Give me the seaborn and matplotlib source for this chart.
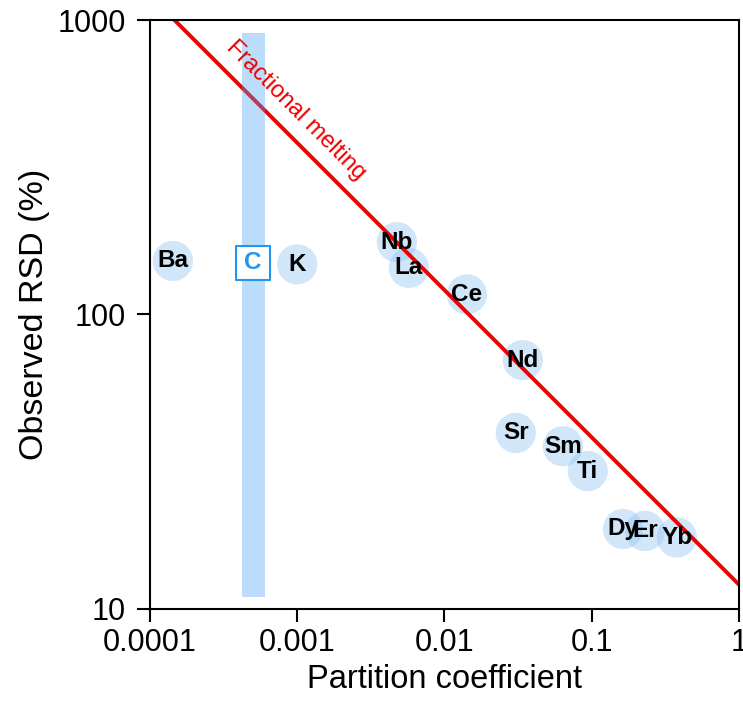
import matplotlib
matplotlib.use("Agg")
import matplotlib.pyplot as plt
import seaborn as sns
import pandas as pd

elements = ["Ba", "K", "Nb", "La", "Ce", "Nd", "Sr", "Sm", "Ti", "Dy", "Er", "Yb"]
partition = [0.000143, 0.001, 0.00475, 0.00573, 0.0142, 0.034, 0.0305, 0.0637, 0.094, 0.163, 0.23, 0.378]
rsd = [152, 148, 176, 144, 117, 70, 39.6, 35.7, 29.4, 18.7, 18.4, 17.5]

line_x = [0.0001, 1.0]
line_y = [1210, 12.1]

band_x = [0.00042, 0.0006]
band_y = [11, 900]
c_label = "C"
c_pos = (0.0005, 150)

sns.set_theme(style="white")
plt.rcParams['font.family'] = ['Liberation Sans', 'DejaVu Sans']

df = pd.DataFrame({"D": partition, "RSD": rsd, "el": elements})

fig = plt.figure(figsize=(7.43, 7.02), dpi=100)
ax = fig.add_axes([0.2019, 0.1325, 0.7927, 0.839])

sns.scatterplot(data=df, x="D", y="RSD", s=840, color="#90c2f4", alpha=0.4,
                edgecolor="none", ax=ax, zorder=1.5)

sns.lineplot(x=line_x, y=line_y, color="#ee0000", lw=2.8, ax=ax, zorder=2)

ax.fill_between(band_x, band_y[0], band_y[1], color="#4fa3f5", alpha=0.38,
                lw=0, zorder=2.5)

for e, x, y in zip(elements, partition, rsd):
    ax.text(x, y, e, ha="center", va="center", fontsize=17.5, fontweight="bold",
            color="black", zorder=4)

ax.scatter([c_pos[0]], [c_pos[1]], marker="s", s=600, facecolor="white",
           edgecolor="#2196f3", linewidth=1.5, zorder=5)
ax.text(c_pos[0], c_pos[1], c_label, ha="center", va="center", fontsize=17.5,
        fontweight="bold", color="#2196f3", zorder=6)

ax.text(0.00098, 494, "Fractional melting", rotation=-45, ha="center", va="center",
        fontsize=17, color="#ee0000", rotation_mode="anchor", zorder=4)

ax.set_xscale("log")
ax.set_yscale("log")
ax.set_xlim(0.0001, 1)
ax.set_ylim(10, 1000)
ax.set_xticks([0.0001, 0.001, 0.01, 0.1, 1])
ax.set_xticklabels(["0.0001", "0.001", "0.01", "0.1", "1"])
ax.set_yticks([10, 100, 1000])
ax.set_yticklabels(["10", "100", "1000"])
ax.minorticks_off()
ax.tick_params(axis="both", which="major", direction="out", length=9.5, width=1.5,
               labelsize=22, color="black", labelcolor="black", bottom=True, left=True)
ax.tick_params(axis="x", pad=4)
ax.tick_params(axis="y", pad=8)
for sp in ax.spines.values():
    sp.set_color("black")
    sp.set_linewidth(1.5)

ax.set_xlabel("Partition coefficient", fontsize=23.5, color="black")
ax.set_ylabel("Observed RSD (%)", fontsize=24.5, color="black")
ax.xaxis.set_label_coords(0.5, -0.093)
ax.xaxis.label.set_va("top")
ax.yaxis.set_label_coords(-0.17, 0.5)

fig.savefig("out.png", dpi=100)
